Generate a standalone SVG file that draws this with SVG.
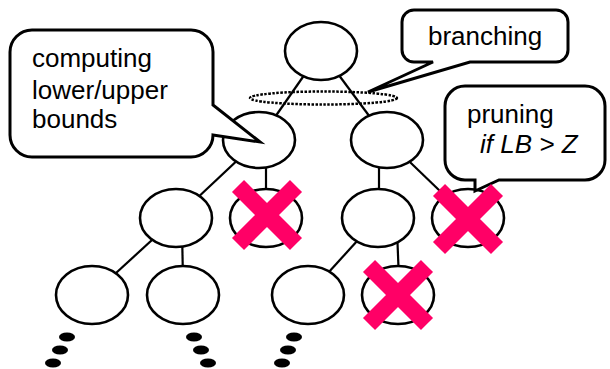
<svg xmlns="http://www.w3.org/2000/svg" width="610" height="369" viewBox="0 0 610 369">
<style>
.n{fill:#fff;stroke:#000;stroke-width:2.6}
.e{stroke:#000;stroke-width:2.2;fill:none}
.c{fill:#fff;stroke:#000;stroke-width:3;stroke-linejoin:miter}
.t{font-family:"Liberation Sans",Arial,sans-serif;font-size:26px;fill:#000}
.x{stroke:#FF0066;stroke-width:17;stroke-linecap:butt}
.d{fill:#000}
</style>
<rect width="610" height="369" fill="#fff"/>
<g id="connectors">
<line class="e" x1="321" y1="51" x2="259" y2="140"/>
<line class="e" x1="321" y1="51" x2="387" y2="140"/>
<line class="e" x1="259" y1="140" x2="176" y2="218"/>
<line class="e" x1="266" y1="150" x2="266" y2="200"/>
<line class="e" x1="379" y1="150" x2="379" y2="200"/>
<line class="e" x1="387" y1="140" x2="468" y2="218"/>
<line class="e" x1="176" y1="218" x2="92" y2="295"/>
<line class="e" x1="182" y1="230" x2="183" y2="280"/>
<line class="e" x1="378" y1="218" x2="308" y2="295"/>
<line class="e" x1="397" y1="230" x2="399" y2="280"/>
</g>
<ellipse id="branch-ring" cx="323.5" cy="98" rx="73.5" ry="6.5" fill="none" stroke="#000" stroke-width="2.5" stroke-dasharray="2.5 1.5"/>
<g id="root"><ellipse class="n" cx="321" cy="51" rx="36" ry="29"/></g>
<g id="n1a"><ellipse class="n" cx="259" cy="140" rx="36" ry="28"/></g>
<g id="n1b"><ellipse class="n" cx="387" cy="140" rx="36" ry="28"/></g>
<g id="n2a"><ellipse class="n" cx="176" cy="218" rx="36" ry="29"/></g>
<g id="n2b"><ellipse class="n" cx="266" cy="218" rx="36" ry="29"/></g>
<g id="n2c"><ellipse class="n" cx="378" cy="218" rx="36" ry="29"/></g>
<g id="n2d"><ellipse class="n" cx="468" cy="218" rx="36" ry="29"/></g>
<g id="n3a"><ellipse class="n" cx="92" cy="295" rx="36" ry="29"/></g>
<g id="n3b"><ellipse class="n" cx="183" cy="295" rx="36" ry="29"/></g>
<g id="n3c"><ellipse class="n" cx="308" cy="295" rx="36" ry="29"/></g>
<g id="n3d"><ellipse class="n" cx="398" cy="295" rx="36" ry="29"/></g>
<g id="dots">
<ellipse class="d" cx="67" cy="337" rx="8" ry="4.5"/>
<ellipse class="d" cx="60" cy="350" rx="8" ry="4.5"/>
<ellipse class="d" cx="53" cy="363" rx="8" ry="4.5"/>
<ellipse class="d" cx="194" cy="337" rx="8" ry="4.5"/>
<ellipse class="d" cx="201" cy="350" rx="8" ry="4.5"/>
<ellipse class="d" cx="208" cy="363" rx="8" ry="4.5"/>
<ellipse class="d" cx="294" cy="337" rx="8" ry="4.5"/>
<ellipse class="d" cx="288" cy="350" rx="8" ry="4.5"/>
<ellipse class="d" cx="282" cy="363" rx="8" ry="4.5"/>
</g>
<g id="callout-bounds">
<path class="c" d="M32,30 H191 A22 22 0 0 1 213,52 V105 L260,142 L213,135 A22 22 0 0 1 191,157 H32 A22 22 0 0 1 10,135 V52 A22 22 0 0 1 32,30 Z"/>
<text class="t" x="32" y="67">computing</text>
<text class="t" x="32" y="99">lower/upper</text>
<text class="t" x="32" y="128">bounds</text>
</g>
<g id="callout-branching">
<path class="c" d="M414,10 H556 A12 12 0 0 1 568,22 V50 A12 12 0 0 1 556,62 H470 L368,92 L433,62 H414 A12 12 0 0 1 402,50 V22 A12 12 0 0 1 414,10 Z"/>
<text class="t" x="428" y="45">branching</text>
</g>
<g id="callout-pruning">
<path class="c" d="M465,86 H585 A20 20 0 0 1 605,106 V160 A20 20 0 0 1 585,180 H499 L475,191 V180 H465 A20 20 0 0 1 445,160 V106 A20 20 0 0 1 465,86 Z"/>
<text class="t" x="467" y="123">pruning</text>
<text class="t" x="480" y="153" font-style="italic">if LB &gt; Z</text>
</g>
<g id="prune-marks">
<path class="x" d="M238,186 L296,244 M296,186 L238,244"/>
<path class="x" d="M439,190 L497,248 M497,190 L439,248"/>
<path class="x" d="M369,266 L427,324 M427,266 L369,324"/>
</g>
</svg>
